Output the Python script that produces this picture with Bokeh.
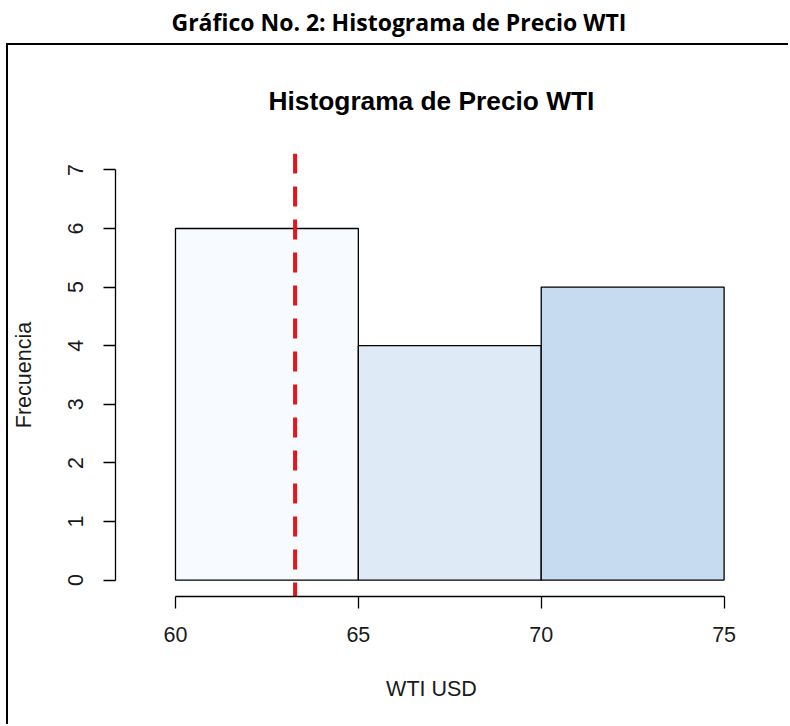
from bokeh.plotting import figure
from bokeh.layouts import column
from bokeh.models import Range1d, FixedTicker, Title
from bokeh.embed import file_html
from bokeh.resources import INLINE

# ---- data ----
bin_edges = [60, 65, 70, 75]
counts = [6, 4, 5]
bar_colors = ["#F7FBFF", "#DEEBF7", "#C6DBEF"]
mean_price = 63.27
x_ticks = [60, 65, 70, 75]
y_ticks = [0, 1, 2, 3, 4, 5, 6, 7]
xlim = (59, 75)
ylim = (0, 7)

outer_title = "Gráfico No. 2: Histograma de Precio WTI"
inner_title = "Histograma de Precio WTI"
x_label = "WTI USD"
y_label = "Frecuencia"

FONT = "Liberation Sans"

def padded(lim):
    d = (lim[1] - lim[0]) * 0.04
    return lim[0] - d, lim[1] + d

# ---- outer title strip ----
tf = figure(width=790, height=41, output_backend="svg", toolbar_location=None,
            x_range=Range1d(0, 1), y_range=Range1d(0, 1),
            x_axis_location=None, y_axis_location=None,
            min_border=0, outline_line_color=None, margin=(2, 0, 0, 0))
tf.grid.visible = False
tf.title = Title(text=outer_title, align="left", text_font="Open Sans",
                 text_font_size="23px", text_font_style="bold",
                 text_color="black", standoff=2, offset=64)

# ---- main histogram ----
xr = Range1d(*padded(xlim))
yr = Range1d(*padded(ylim))
p = figure(width=782, height=681, output_backend="svg", toolbar_location=None,
           x_range=xr, y_range=yr,
           min_border_left=107, min_border_right=43,
           min_border_top=108, min_border_bottom=130,
           outline_line_color=None, margin=(0, 0, 0, 6),
           styles={"border-top": "2px solid black", "border-left": "2px solid black"})
p.grid.visible = False
p.title = Title(text=inner_title, align="center", text_font=FONT,
                text_font_size="26.3px", text_font_style="bold",
                text_color="black", standoff=76)

p.quad(left=bin_edges[:-1], right=bin_edges[1:], bottom=0, top=counts,
       fill_color=bar_colors, line_color="black", line_width=1.3)

p.segment(x0=[mean_price], y0=[yr.end], x1=[mean_price], y1=[yr.start],
          line_color="#E8141B", line_width=4, line_dash="20 13")

for ax, ticks in ((p.xaxis[0], x_ticks), (p.yaxis[0], y_ticks)):
    ax.ticker = FixedTicker(ticks=ticks)
    ax.bounds = (min(ticks), max(ticks))
    ax.minor_tick_line_color = None
    ax.major_tick_in = 0
    ax.major_tick_out = 12
    ax.axis_line_color = "black"
    ax.axis_line_width = 1.3
    ax.major_tick_line_color = "black"
    ax.major_tick_line_width = 1.3
    ax.major_label_text_font = FONT
    ax.major_label_text_font_size = "21.5px"
    ax.major_label_text_color = "#1a1a1a"
    ax.axis_label_text_font = FONT
    ax.axis_label_text_font_size = "21.5px"
    ax.axis_label_text_font_style = "normal"
    ax.axis_label_text_color = "#1a1a1a"

p.xaxis.axis_label = x_label
p.xaxis.major_label_standoff = 18
p.xaxis.axis_label_standoff = 32
p.yaxis.axis_label = y_label
p.yaxis.major_label_orientation = "vertical"
p.yaxis.major_label_standoff = 20
p.yaxis.axis_label_standoff = 30

layout = column(tf, p, spacing=0)
open("out.html", "w").write(file_html(layout, INLINE))
